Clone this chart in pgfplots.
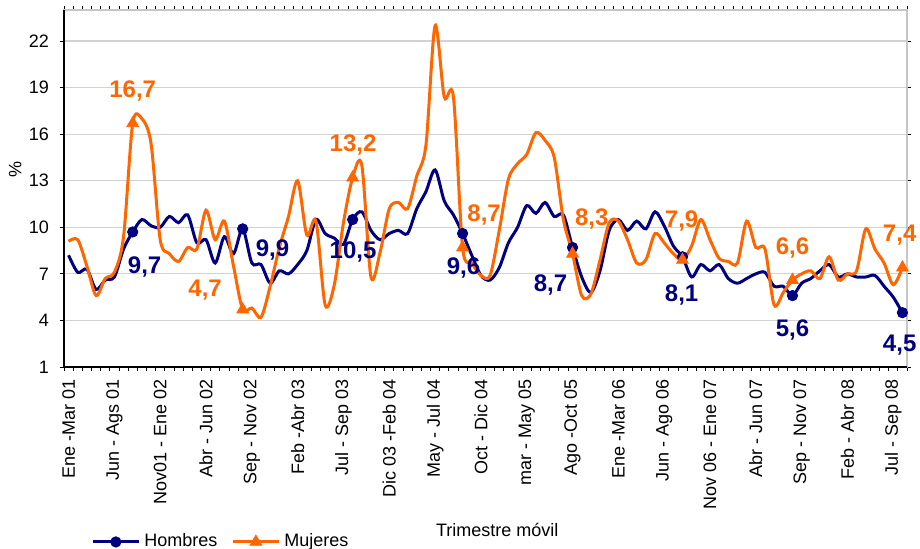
\documentclass[border=0pt]{standalone}
\usepackage{fontspec}
\setmainfont{Liberation Sans}
\usepackage{pgfplots}
\usepackage{pgfplotstable}
\pgfplotsset{compat=1.18}
\definecolor{hombres}{RGB}{0,0,128}
\definecolor{mujeres}{RGB}{255,102,0}

% trimestre movil: k = 0 (Ene-Mar 01) ... 91 (Ago-Oct 08)
\pgfplotstableread{
k h m
0 8.2 9.1
1 7.1 9.2
2 7.3 7.5
3 6.0 5.6
4 6.6 6.7
5 6.8 7.1
6 8.6 9.4
7 9.7 16.7
8 10.5 17.0
9 10.1 15.4
10 10.0 9.2
11 10.7 8.3
12 10.3 7.8
13 10.8 8.7
14 9.0 8.6
15 9.2 11.1
16 7.7 9.2
17 9.4 10.4
18 8.3 7.5
19 9.9 4.7
20 7.7 4.8
21 7.6 4.2
22 6.4 6.2
23 7.2 8.7
24 7.0 10.7
25 7.6 13.0
26 8.5 9.5
27 10.5 10.4
28 9.6 5.0
29 9.3 6.3
30 8.9 10.3
31 10.5 13.2
32 11.0 14.0
33 9.8 6.8
34 9.2 8.4
35 9.6 11.2
36 9.8 11.6
37 9.6 11.2
38 11.2 13.3
39 12.3 15.3
40 13.7 23.0
41 11.7 18.4
42 10.8 18.4
43 9.6 8.7
44 8.2 7.7
45 6.9 6.9
46 6.6 6.9
47 7.4 9.8
48 9.0 13.1
49 10.0 14.1
50 11.4 14.7
51 10.9 16.1
52 11.6 15.6
53 10.7 14.5
54 10.8 10.5
55 8.7 8.3
56 6.8 5.6
57 5.8 5.7
58 7.2 7.9
59 9.8 10.3
60 10.5 10.4
61 9.8 9.2
62 10.4 7.7
63 9.9 7.9
64 11.0 9.6
65 10.1 9.0
66 8.8 8.3
67 8.1 7.9
68 6.8 8.8
69 7.6 10.5
70 7.2 9.2
71 7.6 8.0
72 6.7 7.8
73 6.4 7.7
74 6.7 10.4
75 7.0 8.7
76 7.1 8.6
77 6.2 5.0
78 6.2 5.8
79 5.6 6.6
80 6.4 7.0
81 6.7 7.2
82 7.2 6.7
83 7.6 8.1
84 6.8 6.6
85 7.0 7.0
86 6.8 7.2
87 6.8 9.9
88 6.9 8.6
89 6.2 7.7
90 5.5 6.3
91 4.5 7.4
}\datos

\begin{document}
\begin{tikzpicture}
\begin{axis}[
  at={(0,0)}, anchor=south west,
  scale only axis, width=421.5pt, height=178.5pt,
  xmin=-0.5, xmax=91.5, ymin=1, ymax=24,
  ytick={1,4,...,22}, minor ytick={1,4,...,22},
  ymajorgrids, grid style={gray!35, line width=0.6pt},
  axis line style={gray!45, line width=0.6pt},
  tick align=outside, major tick length=0pt, minor tick length=2pt,
  tick style={black, line width=0.4pt},
  xtick={0,5,...,90},
  xticklabels={Ene -Mar 01, Jun - Ags 01, Nov01 - Ene 02, Abr - Jun 02, Sep - Nov 02, Feb -Abr 03, Jul - Sep 03, Dic 03 -Feb 04, May - Jul 04, Oct - Dic 04, mar - May 05, Ago -Oct 05, Ene -Mar 06, Jun - Ago 06, Nov 06 - Ene 07, Abr - Jun 07, Sep - Nov 07, Feb - Abr 08, Jul - Sep 08},
  minor xtick={-0.5,0.5,...,91.5},
  xticklabel style={yshift=-2.5pt, rotate=90, anchor=east},
  tick label style={font=\fontsize{9}{10}\selectfont},
  yticklabel style={xshift=-4pt},
  /pgf/number format/assume math mode=true,
  ylabel={\%},
  ylabel style={at={(axis description cs:-0.058,0.552)}, anchor=center, rotate=0, font=\fontsize{9}{10}\selectfont},
  xlabel={Trimestre móvil},
  xlabel style={at={(axis description cs:0.514,-0.457)}, anchor=center, font=\fontsize{9}{10}\selectfont},
  legend style={at={(axis description cs:0.032,-0.49)}, anchor=west, draw=none, fill=none,
    inner sep=0pt, legend columns=2, font=\fontsize{9}{10}\selectfont,
    /tikz/every even column/.append style={column sep=5pt}},
  legend image code/.code={\draw[#1, mark repeat=2, mark phase=2] plot coordinates {(0pt,0pt) (11.5pt,0pt) (23pt,0pt)};},
  clip=false,
]
\addplot[hombres, line width=1.5pt, smooth, mark=*, mark repeat=12, mark phase=8,
  mark size=2.6pt, mark options={line width=0.4pt}] table[x=k, y=h] {\datos};
\addlegendentry{Hombres}
\addplot[mujeres, line width=1.5pt, smooth, mark=triangle*, mark repeat=12, mark phase=8,
  mark size=3.4pt, mark options={line width=0.4pt}] table[x=k, y=m] {\datos};
\addlegendentry{Mujeres}

\draw[black, line width=0.6pt] (rel axis cs:0,1) -- (rel axis cs:0,0) -- (rel axis cs:1,0);

\begin{scope}[every node/.style={font=\bfseries\fontsize{12}{12}\selectfont}]
\node[text=mujeres] at (axis cs:7.0,18.8) {16,7};
\node[text=hombres] at (axis cs:8.3,7.47) {9,7};
\node[text=mujeres] at (axis cs:14.9,5.96) {4,7};
\node[text=hombres] at (axis cs:22.26,8.54) {9,9};
\node[text=mujeres] at (axis cs:31.05,15.28) {13,2};
\node[text=hombres] at (axis cs:31.05,8.38) {10,5};
\node[text=mujeres] at (axis cs:45.35,10.8) {8,7};
\node[text=hombres] at (axis cs:43.1,7.35) {9,6};
\node[text=mujeres] at (axis cs:57.1,10.51) {8,3};
\node[text=hombres] at (axis cs:52.6,6.28) {8,7};
\node[text=mujeres] at (axis cs:66.9,10.38) {7,9};
\node[text=hombres] at (axis cs:66.9,5.67) {8,1};
\node[text=mujeres] at (axis cs:79.0,8.64) {6,6};
\node[text=hombres] at (axis cs:79.0,3.37) {5,6};
\node[text=mujeres] at (axis cs:90.7,9.5) {7,4};
\node[text=hombres] at (axis cs:90.7,2.4) {4,5};
\end{scope}
\end{axis}
\pgfresetboundingbox
\useasboundingbox (-32pt,-90.5pt) rectangle (428pt,183.5pt);
\end{tikzpicture}
\end{document}
